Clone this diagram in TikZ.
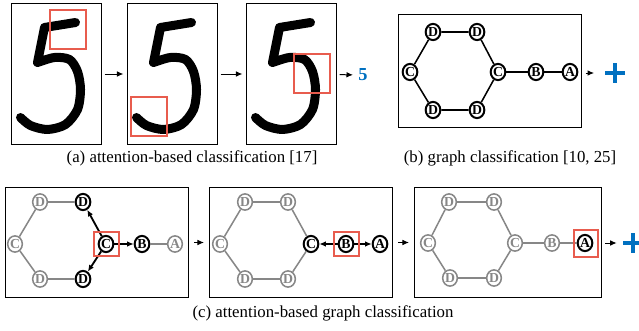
\documentclass[tikz,border=0pt]{standalone}
\usepackage{fontspec}
\setmainfont{Liberation Serif}
\usetikzlibrary{arrows.meta,shapes.geometric}
\definecolor{attnred}{RGB}{232,92,78}
\definecolor{predblue}{RGB}{0,112,192}
\definecolor{fadegray}{RGB}{135,135,135}

\begin{document}
\begin{tikzpicture}[x=0.23mm, y=-0.23mm, every node/.style={font=\fontsize{11}{13}\selectfont}, >={Latex[length=1.5mm, width=1.3mm]},
	imgbox/.style={draw, line width=0.65pt, minimum width=20.7mm, minimum height=32.2mm, inner sep=0pt},
	graphbox/.style={draw, line width=0.65pt, minimum width=42.3mm, minimum height=25.5mm, inner sep=0pt},
	atom/.style={ellipse, draw, line width=1.3pt, minimum width=9.6pt, minimum height=10.6pt, inner sep=0pt, font=\fontsize{9}{9}\selectfont\bfseries},
	faded/.style={atom, draw=fadegray, text=fadegray, line width=1pt},
	bond/.style={line width=1pt},
	fbond/.style={bond, fadegray},
	link/.style={->, line width=0.65pt, shorten <=2pt, shorten >=2pt},
	attend/.style={->, line width=1.2pt},
	attn/.style={attnred, line width=0.7pt},
	plussign/.style={minimum size=13pt, inner sep=0pt, path picture={
		\fill[predblue] ([yshift=-1.6pt]path picture bounding box.west) rectangle ([yshift=1.6pt]path picture bounding box.east);
		\fill[predblue] ([xshift=-1.6pt]path picture bounding box.south) rectangle ([xshift=1.6pt]path picture bounding box.north);}},
	five/.pic={\draw[line width=5.9pt, line cap=round, line join=round] (65,19) -- (34,24) -- plot[smooth] coordinates {(27,59) (44,54) (59,56) (67,68) (70,86) (67,106) (55,121) (37,126) (20,122) (10,114)};}]
	\useasboundingbox (0,0) rectangle (639,331);
	% (a) attention over the digit
	\node[imgbox] (img1) at (56,74) {};
	\node[imgbox] (img2) at (172,74) {};
	\node[imgbox] (img3) at (291,74) {};
	\pic at (img1.north west) {five};
	\pic at (img2.north west) {five};
	\pic at (img3.north west) {five};
	\draw[attn] (50,10) rectangle (86,49);
	\draw[attn] (131,97) rectangle (167,136);
	\draw[attn] (294,54) rectangle (330,93);
	\node[font=\fontsize{12}{12}\selectfont\bfseries, text=predblue] (pred) at (363,75) {5};
	\draw[link] (img1) -- (img2);
	\draw[link] (img2) -- (img3);
	\draw[link, shorten >=0pt] (img3) -- (pred);
	\node (capa) at (192,158) {(a) attention-based classification [17]};
	% (b) whole graph
	\node[graphbox, minimum height=26.2mm] (boxb) at (490,71) {};
	\node[atom] (bD1) at (433,32) {D};
	\node[atom] (bD2) at (477,32) {D};
	\node[atom] (bC1) at (410,72) {C};
	\node[atom] (bC2) at (498,72) {C};
	\node[atom] (bD3) at (433,110) {D};
	\node[atom] (bD4) at (477,110) {D};
	\node[atom] (bB) at (536,72) {B};
	\node[atom] (bA) at (570,72) {A};
	\draw[bond] (bD1) -- (bD2) -- (bC2) -- (bD4) -- (bD3) -- (bC1) -- (bD1);
	\draw[bond] (bC2) -- (bB) -- (bA);
	\node[plussign] (plusb) at (615,73) {};
	\draw[link, shorten >=7pt] (boxb.east |- plusb) -- (plusb);
	\node (capb) at (510,158) {(b) graph classification [10, 25]};
	% (c) attention walks over the graph
	\node[graphbox] (boxc1) at (97,242.5) {};
	\node[graphbox] (boxc2) at (301,242.5) {};
	\node[graphbox, minimum width=43.2mm] (boxc3) at (508,242.5) {};
	\node[faded] (cD1) at (40,202) {D};
	\node[atom] (cD2) at (83,202) {D};
	\node[faded] (cC1) at (15,244) {C};
	\node[atom] (cC2) at (106,244) {C};
	\node[faded] (cD3) at (40,279) {D};
	\node[atom] (cD4) at (83,279) {D};
	\node[atom] (cB) at (142,244) {B};
	\node[faded] (cA) at (175,244) {A};
	\draw[fbond] (cD2) -- (cD1) -- (cC1) -- (cD3) -- (cD4);
	\draw[fbond] (cB) -- (cA);
	\draw[attend] (cC2) -- (cD2);
	\draw[attend] (cC2) -- (cD4);
	\draw[attend] (cC2) -- (cB);
	\draw[attn] (94,232) rectangle (119,256);
	\node[faded] (dD1) at (245,202) {D};
	\node[faded] (dD2) at (288,202) {D};
	\node[faded] (dC1) at (220,244) {C};
	\node[atom] (dC2) at (311,244) {C};
	\node[faded] (dD3) at (245,279) {D};
	\node[faded] (dD4) at (288,279) {D};
	\node[atom] (dB) at (346,244) {B};
	\node[atom] (dA) at (380,244) {A};
	\draw[fbond] (dD1) -- (dD2) -- (dC2) -- (dD4) -- (dD3) -- (dC1) -- (dD1);
	\draw[attend] (dB) -- (dC2);
	\draw[attend] (dB) -- (dA);
	\draw[attn] (334,232) rectangle (359,256);
	\node[faded] (eD1) at (449,202) {D};
	\node[faded] (eD2) at (494,202) {D};
	\node[faded] (eC1) at (428,243) {C};
	\node[faded] (eC2) at (515,243) {C};
	\node[faded] (eD3) at (450,278) {D};
	\node[faded] (eD4) at (494,278) {D};
	\node[faded] (eB) at (552,243) {B};
	\node[atom] (eA) at (585,243) {A};
	\draw[fbond] (eD1) -- (eD2) -- (eC2) -- (eD4) -- (eD3) -- (eC1) -- (eD1);
	\draw[fbond] (eC2) -- (eB) -- (eA);
	\draw[attn] (574,230) rectangle (598,257);
	\node[plussign] (plusc) at (633,243) {};
	\draw[link, shorten <=3pt, shorten >=3pt] (boxc1) -- (boxc2);
	\draw[link, shorten <=3pt, shorten >=3pt] (boxc2) -- (boxc3);
	\draw[link, shorten >=4pt] (boxc3.east |- plusc) -- (plusc);
	\node (capc) at (323,313) {(c) attention-based graph classification};
\end{tikzpicture}
\end{document}
